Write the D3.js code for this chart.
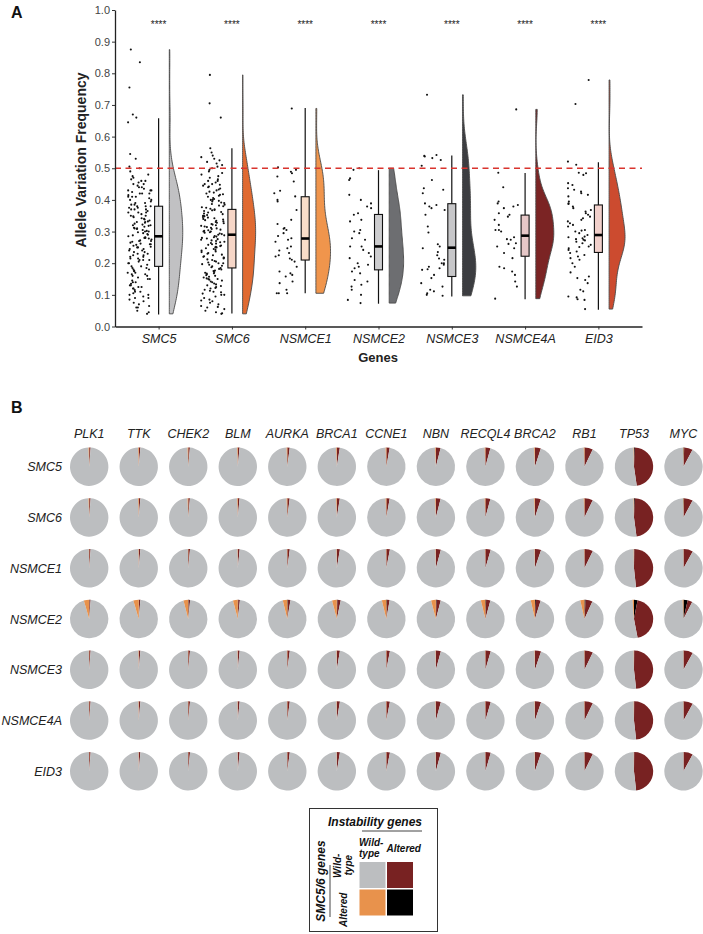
<!DOCTYPE html>
<html>
<head>
<meta charset="utf-8">
<script src="https://cdn.jsdelivr.net/npm/d3@7"></script>
<style>
  html, body { margin: 0; padding: 0; background: #fff; }
  svg { display: block; font-family: "Liberation Sans", Arial, sans-serif; }
</style>
</head>
<body>
<svg id="chart" width="703" height="934"></svg>
<script>
// ---------------- DATA : panel A ----------------
const genes = ["SMC5", "SMC6", "NSMCE1", "NSMCE2", "NSMCE3", "NSMCE4A", "EID3"];
const yTicks = [0, 0.1, 0.2, 0.3, 0.4, 0.5, 0.6, 0.7, 0.8, 0.9, 1.0];
const significance = ["****", "****", "****", "****", "****", "****", "****"];
const thresholdAVF = 0.5;

const afvSMC5 = [0.04,0.045,0.05,0.06,0.065,0.07,0.075,0.08,0.085,0.09,0.09,0.095,0.1,0.06,
  0.10,0.105,0.11,0.11,0.115,0.12,0.12,0.125,0.13,0.13,0.135,0.14,0.14,0.145,0.15,0.125,
  0.15,0.155,0.16,0.16,0.165,0.17,0.17,0.175,0.175,0.18,0.18,0.185,0.185,0.19,0.19,0.195,0.2,0.165,
  0.2,0.205,0.21,0.21,0.215,0.215,0.22,0.22,0.225,0.23,0.23,0.235,0.235,0.24,0.24,0.245,0.245,0.25,0.225,0.21,
  0.25,0.252,0.255,0.258,0.26,0.262,0.265,0.268,0.27,0.272,0.275,0.278,0.28,0.282,0.285,0.288,0.29,0.292,0.295,0.298,0.3,0.26,0.27,0.28,
  0.3,0.302,0.305,0.308,0.31,0.312,0.315,0.318,0.32,0.322,0.325,0.328,0.33,0.332,0.335,0.338,0.34,0.342,0.345,0.348,0.35,0.31,0.32,0.33,
  0.35,0.355,0.36,0.36,0.365,0.37,0.37,0.375,0.375,0.38,0.38,0.385,0.385,0.39,0.39,0.395,0.4,0.36,0.37,0.38,
  0.4,0.405,0.41,0.41,0.415,0.42,0.42,0.425,0.43,0.43,0.435,0.44,0.44,0.445,0.45,0.42,0.43,0.41,
  0.45,0.455,0.46,0.46,0.465,0.47,0.475,0.48,0.49,0.5,
  0.505,0.53,0.545,0.645,0.66,0.67,0.755,0.835,0.875];
const afvSMC6 = [0.04,0.042,0.045,0.05,0.055,0.06,0.062,0.065,0.07,0.075,0.08,0.082,0.085,0.09,0.095,0.1,
  0.1,0.104,0.108,0.11,0.113,0.116,0.12,0.122,0.125,0.128,0.13,0.133,0.136,0.14,0.142,0.145,0.148,0.15,
  0.15,0.152,0.155,0.157,0.16,0.162,0.165,0.167,0.17,0.172,0.175,0.177,0.18,0.182,0.185,0.187,0.19,0.192,0.195,0.197,0.2,0.168,
  0.2,0.202,0.205,0.207,0.21,0.212,0.215,0.217,0.22,0.222,0.225,0.227,0.23,0.232,0.235,0.237,0.24,0.242,0.245,0.247,0.25,0.218,
  0.25,0.252,0.254,0.256,0.258,0.26,0.262,0.264,0.266,0.268,0.27,0.272,0.274,0.276,0.278,0.28,0.282,0.284,0.286,0.288,0.29,0.292,0.294,0.296,0.298,0.3,
  0.3,0.302,0.304,0.306,0.308,0.31,0.312,0.314,0.316,0.318,0.32,0.322,0.324,0.326,0.328,0.33,0.332,0.334,0.336,0.338,0.34,0.342,0.344,0.346,0.348,0.35,
  0.35,0.352,0.355,0.357,0.36,0.362,0.365,0.367,0.37,0.372,0.375,0.377,0.38,0.382,0.385,0.387,0.39,0.392,0.395,0.397,0.4,0.368,
  0.4,0.403,0.406,0.41,0.413,0.416,0.42,0.423,0.426,0.43,0.433,0.436,0.44,0.442,0.445,0.448,0.45,0.418,
  0.45,0.455,0.46,0.465,0.47,0.475,0.48,0.485,0.49,0.495,0.5,0.46,
  0.505,0.51,0.515,0.52,0.525,0.53,0.535,0.54,0.55,0.563,
  0.66,0.705,0.795];
const afvNSMCE1 = [0.689,0.503,0.495,0.489,0.484,0.474,0.458,0.429,0.421,0.411,0.4,0.395,0.368,0.337,0.324,0.311,0.309,0.305,0.295,0.286,0.279,0.274,0.268,0.253,0.247,0.24,0.232,0.225,0.221,0.215,0.211,0.205,0.189,0.174,0.168,0.163,0.158,0.142,0.137,0.116,0.105,0.105,0.105];
const afvNSMCE2 = [0.5,0.495,0.468,0.463,0.416,0.4,0.389,0.379,0.374,0.358,0.353,0.337,0.332,0.305,0.3,0.295,0.279,0.274,0.253,0.253,0.242,0.232,0.221,0.216,0.2,0.195,0.189,0.184,0.174,0.168,0.147,0.142,0.132,0.126,0.116,0.1,0.084,0.074];
const afvNSMCE3 = [0.732,0.542,0.539,0.537,0.532,0.526,0.508,0.463,0.437,0.432,0.421,0.389,0.384,0.379,0.374,0.368,0.353,0.316,0.297,0.26,0.253,0.247,0.235,0.225,0.215,0.211,0.2,0.2,0.195,0.189,0.184,0.181,0.179,0.163,0.153,0.137,0.126,0.116,0.111,0.105,0.1,0.097];
const afvNSMCE4A = [0.686,0.486,0.44,0.395,0.389,0.384,0.379,0.374,0.358,0.353,0.347,0.337,0.321,0.305,0.305,0.3,0.282,0.276,0.274,0.263,0.261,0.253,0.247,0.232,0.216,0.189,0.184,0.174,0.163,0.142,0.126,0.088];
const afvEID3 = [0.779,0.703,0.521,0.511,0.486,0.484,0.479,0.453,0.447,0.437,0.432,0.426,0.421,0.416,0.411,0.395,0.389,0.387,0.379,0.374,0.368,0.363,0.358,0.353,0.347,0.342,0.337,0.332,0.326,0.321,0.316,0.305,0.303,0.3,0.295,0.289,0.284,0.282,0.279,0.276,0.274,0.272,0.268,0.263,0.258,0.253,0.251,0.247,0.242,0.237,0.232,0.226,0.221,0.216,0.211,0.2,0.189,0.171,0.158,0.153,0.147,0.137,0.116,0.111,0.095,0.092,0.086,0.084,0.055];
const afvByGene = [afvSMC5, afvSMC6, afvNSMCE1, afvNSMCE2, afvNSMCE3, afvNSMCE4A, afvEID3];

// box statistics
const boxWhiskerLow  = [0.038, 0.041, 0.105, 0.072, 0.095, 0.086, 0.053];
const boxQ1          = [0.190, 0.185, 0.210, 0.179, 0.158, 0.222, 0.234];
const boxMedian      = [0.285, 0.290, 0.278, 0.253, 0.249, 0.287, 0.289];
const boxQ3          = [0.380, 0.370, 0.410, 0.354, 0.388, 0.352, 0.384];
const boxWhiskerHigh = [0.658, 0.563, 0.690, 0.494, 0.540, 0.485, 0.519];

// ---------------- DATA : panel B ----------------
const instabilityGenes = ["PLK1","TTK","CHEK2","BLM","AURKA","BRCA1","CCNE1","NBN","RECQL4","BRCA2","RB1","TP53","MYC"];
const smcGenes = ["SMC5","SMC6","NSMCE1","NSMCE2","NSMCE3","NSMCE4A","EID3"];
// fraction: instability gene altered, SMC5/6 gene wild-type
const fracInstAltered = [
  [0.012,0.014,0.014,0.015,0.020,0.025,0.028,0.040,0.042,0.050,0.070,0.470,0.072],
  [0.012,0.014,0.014,0.015,0.020,0.025,0.028,0.040,0.042,0.050,0.070,0.472,0.074],
  [0.012,0.014,0.015,0.016,0.021,0.026,0.030,0.042,0.045,0.052,0.072,0.480,0.078],
  [0.010,0.012,0.012,0.014,0.022,0.028,0.022,0.035,0.036,0.040,0.058,0.440,0.040],
  [0.012,0.014,0.015,0.016,0.021,0.026,0.030,0.042,0.045,0.052,0.072,0.480,0.078],
  [0.012,0.014,0.015,0.016,0.021,0.026,0.030,0.042,0.045,0.052,0.072,0.480,0.078],
  [0.012,0.014,0.015,0.016,0.021,0.026,0.030,0.042,0.045,0.052,0.072,0.480,0.078]];
// fraction: SMC5/6 gene altered, instability gene wild-type
const fracSmcAltered = [
  [0.006,0.006,0.006,0.006,0.006,0.006,0.006,0.006,0.006,0.006,0.006,0.003,0.004],
  [0.006,0.006,0.006,0.006,0.006,0.006,0.006,0.006,0.006,0.006,0.006,0.003,0.004],
  [0.003,0.003,0.003,0.003,0.003,0.003,0.003,0.003,0.003,0.003,0.003,0.002,0.002],
  [0.045,0.045,0.040,0.040,0.038,0.040,0.038,0.040,0.038,0.035,0.035,0.012,0.008],
  [0.003,0.003,0.003,0.003,0.003,0.003,0.003,0.003,0.003,0.003,0.003,0.002,0.002],
  [0.003,0.003,0.003,0.003,0.003,0.003,0.003,0.003,0.003,0.003,0.003,0.002,0.002],
  [0.002,0.002,0.002,0.002,0.002,0.002,0.002,0.002,0.002,0.002,0.002,0.001,0.001]];
// fraction: both altered
const fracBothAltered = [
  [0,0,0,0,0,0,0,0,0,0,0.001,0.007,0.006],
  [0,0,0,0,0,0,0,0,0,0,0.001,0.007,0.005],
  [0,0,0,0,0,0,0,0,0,0,0,0.003,0.002],
  [0.002,0.002,0.004,0.004,0.005,0.005,0.006,0.006,0.006,0.008,0.010,0.030,0.035],
  [0,0,0,0,0,0,0,0,0,0,0,0.002,0.002],
  [0,0,0,0,0,0,0,0,0,0,0,0.002,0.002],
  [0,0,0,0,0,0,0,0,0,0,0,0.002,0.001]];
const pieCategories = ["both", "inst", "none", "smc"]; // clockwise from 12 o'clock

// ---------------- STYLE ----------------
const violinFill = ["#c1c1c3", "#e06a31", "#f0954c", "#6d6e71", "#3c3d41", "#7b2424", "#cc4b2f"];
const boxFill    = ["#e2e2e3", "#f6d6c7", "#f9ddc8", "#cdcdcf", "#c7c7c9", "#e6c7c7", "#f1d0cb"];
const pieColor = { none: "#bcbec0", inst: "#782222", smc: "#e8924c", both: "#000000" };

const svg = d3.select("#chart");
svg.append("rect").attr("width", 703).attr("height", 934).attr("fill", "#fff");

// ================= PANEL A =================
const y = d3.scaleLinear().domain([0, 1]).range([326.5, 10]);
const x = d3.scalePoint().domain(genes).range([115, 642]).padding(0.595);

svg.append("text").attr("x", 11).attr("y", 18).text("A")
  .attr("font-size", 16).attr("font-weight", "bold").attr("fill", "#111");

const gA = svg.append("g");

// jittered points (deterministic jitter)
function hash(i, g) {
  const s = Math.sin(i * 12.9898 + g * 78.233 + 1.7) * 43758.5453;
  return s - Math.floor(s);
}
afvByGene.forEach((vals, g) => {
  gA.append("g").selectAll("circle").data(vals).join("circle")
    .attr("cx", (d, i) => x(genes[g]) - 19 + (hash(i, g) - 0.5) * 24)
    .attr("cy", d => y(d))
    .attr("r", 1.05)
    .attr("fill", "#111");
});

// box plots
const boxW = 8;
genes.forEach((gname, g) => {
  const cx = x(gname);
  const bg = gA.append("g");
  bg.append("line").attr("x1", cx).attr("x2", cx)
    .attr("y1", y(boxWhiskerLow[g])).attr("y2", y(boxWhiskerHigh[g]))
    .attr("stroke", "#111").attr("stroke-width", 1.2);
  bg.append("rect").attr("x", cx - boxW / 2).attr("width", boxW)
    .attr("y", y(boxQ3[g])).attr("height", y(boxQ1[g]) - y(boxQ3[g]))
    .attr("fill", boxFill[g]).attr("stroke", "#111").attr("stroke-width", 1.1);
  bg.append("line").attr("x1", cx - boxW / 2).attr("x2", cx + boxW / 2)
    .attr("y1", y(boxMedian[g])).attr("y2", y(boxMedian[g]))
    .attr("stroke", "#000").attr("stroke-width", 2.6);
});

// half violins from kernel density of the points
function kde(vals) {
  const s = vals.slice().sort(d3.ascending);
  const n = s.length;
  const sd = d3.deviation(s);
  const iqr = d3.quantile(s, 0.75) - d3.quantile(s, 0.25);
  const bw = 0.9 * Math.min(sd, iqr / 1.34) * Math.pow(n, -0.2);
  const lo = s[0], hi = s[n - 1];
  const pts = [];
  const m = 120;
  for (let k = 0; k <= m; k++) {
    const t = lo + (hi - lo) * k / m;
    let sum = 0;
    for (const v of s) { const u = (t - v) / bw; sum += Math.exp(-0.5 * u * u); }
    pts.push({ t, d: sum / (n * bw * Math.sqrt(2 * Math.PI)) });
  }
  return pts;
}
const dens = afvByGene.map(kde);
const maxD = d3.max(dens, a => d3.max(a, p => p.d));
const wScale = d3.scaleLinear().domain([0, maxD]).range([0, 18]);
dens.forEach((pts, g) => {
  const x0 = x(genes[g]) + 10.7;
  const area = d3.area().x0(x0).x1(p => x0 + wScale(p.d)).y(p => y(p.t)).curve(d3.curveLinear);
  gA.append("path").attr("d", area(pts))
    .attr("fill", violinFill[g]).attr("stroke", "#4a4a4a").attr("stroke-width", 0.9);
});

// dashed threshold
gA.append("line").attr("x1", 115).attr("x2", 642)
  .attr("y1", y(thresholdAVF)).attr("y2", y(thresholdAVF))
  .attr("stroke", "#d9342e").attr("stroke-width", 1.6).attr("stroke-dasharray", "6,4.5");

// significance stars
gA.append("g").selectAll("text").data(genes).join("text")
  .attr("x", d => x(d)).attr("y", 28).attr("text-anchor", "middle")
  .attr("font-size", 10).attr("fill", "#222")
  .text((d, i) => significance[i]);

// axes
const yAxis = svg.append("g").attr("transform", "translate(115,0)")
  .call(d3.axisLeft(y).tickValues(yTicks).tickFormat(d3.format(".1f")).tickSize(3).tickSizeOuter(0).tickPadding(2));
yAxis.selectAll("text").attr("font-size", 11).attr("fill", "#444").attr("font-family", "Liberation Sans, Arial, sans-serif");
yAxis.selectAll("line").attr("stroke", "#333");
yAxis.select(".domain").attr("stroke", "#222").attr("stroke-width", 1.3);

const xAxis = svg.append("g").attr("transform", "translate(0,326.5)")
  .call(d3.axisBottom(x).tickSize(3).tickSizeOuter(0).tickPadding(5));
xAxis.selectAll("text").attr("font-size", 12.5).attr("font-style", "italic").attr("fill", "#222")
  .attr("font-family", "Liberation Sans, Arial, sans-serif");
xAxis.selectAll("line").attr("stroke", "#333");
xAxis.select(".domain").attr("stroke", "#222").attr("stroke-width", 1.3);

svg.append("text").attr("x", 378).attr("y", 362).attr("text-anchor", "middle")
  .attr("font-size", 13).attr("font-weight", "bold").attr("fill", "#222").text("Genes");
svg.append("text").attr("transform", "translate(86,160) rotate(-90)").attr("text-anchor", "middle")
  .attr("font-size", 14).attr("font-weight", "bold").attr("fill", "#222").text("Allele Variation Frequency");

// ================= PANEL B =================
svg.append("text").attr("x", 11).attr("y", 413).text("B")
  .attr("font-size", 16).attr("font-weight", "bold").attr("fill", "#111");

const colX = d3.scalePoint().domain(instabilityGenes).range([89.2, 683.5]);
const rowY = d3.scalePoint().domain(smcGenes).range([466.7, 771.3]);
const pieR = 19.2;

svg.append("g").selectAll("text").data(instabilityGenes).join("text")
  .attr("x", d => colX(d)).attr("y", 437.5).attr("text-anchor", "middle")
  .attr("font-size", 12.5).attr("font-style", "italic").attr("fill", "#222").text(d => d);

svg.append("g").selectAll("text").data(smcGenes).join("text")
  .attr("x", 62).attr("y", d => rowY(d) + 4.5).attr("text-anchor", "end")
  .attr("font-size", 12.5).attr("font-style", "italic").attr("fill", "#222").text(d => d);

const pie = d3.pie().sort(null).value(d => d.v);
const arc = d3.arc().innerRadius(0).outerRadius(pieR);
smcGenes.forEach((sg, r) => {
  instabilityGenes.forEach((ig, c) => {
    const inst = fracInstAltered[r][c], smc = fracSmcAltered[r][c], both = fracBothAltered[r][c];
    const vals = { both, inst, smc, none: 1 - inst - smc - both };
    const data = pieCategories.map(k => ({ k, v: vals[k] }));
    const g = svg.append("g").attr("transform", `translate(${colX(ig)},${rowY(sg)})`);
    g.selectAll("path").data(pie(data)).join("path")
      .attr("d", arc).attr("fill", d => pieColor[d.data.k]);
  });
});

// ================= LEGEND =================
const lg = svg.append("g");
lg.append("rect").attr("x", 309.5).attr("y", 808.5).attr("width", 128).attr("height", 123)
  .attr("fill", "#fff").attr("stroke", "#333").attr("stroke-width", 1);
lg.append("text").attr("x", 328).attr("y", 826).attr("font-size", 12).attr("font-weight", "bold")
  .attr("font-style", "italic").attr("fill", "#111").text("Instability genes");
lg.append("line").attr("x1", 362).attr("x2", 422).attr("y1", 831).attr("y2", 831)
  .attr("stroke", "#444").attr("stroke-width", 1);
const hdr = lg.append("g").attr("font-size", 10).attr("font-weight", "bold").attr("font-style", "italic").attr("fill", "#111");
hdr.append("text").attr("x", 359).attr("y", 846).text("Wild-");
hdr.append("text").attr("x", 359).attr("y", 857).text("type");
hdr.append("text").attr("x", 386.5).attr("y", 852).text("Altered");

const sq = [
  { k: "none", x: 359.5, y: 862 }, { k: "inst", x: 387, y: 862 },
  { k: "smc", x: 359.5, y: 889.5 }, { k: "both", x: 387, y: 889.5 }];
lg.selectAll("rect.sq").data(sq).join("rect").attr("class", "sq")
  .attr("x", d => d.x).attr("y", d => d.y).attr("width", 26).attr("height", 26)
  .attr("fill", d => pieColor[d.k]);

lg.append("text").attr("transform", "translate(325,881) rotate(-90)").attr("text-anchor", "middle")
  .attr("font-size", 12).attr("font-weight", "bold").attr("font-style", "italic").attr("fill", "#111")
  .text("SMC5/6 genes");
lg.append("line").attr("x1", 330).attr("x2", 330).attr("y1", 865).attr("y2", 917)
  .attr("stroke", "#444").attr("stroke-width", 1);
const side = lg.append("g").attr("font-size", 10).attr("font-weight", "bold").attr("font-style", "italic").attr("fill", "#111");
side.append("text").attr("transform", "translate(341,878) rotate(-90)").attr("text-anchor", "start").text("Wild-");
side.append("text").attr("transform", "translate(352,875.5) rotate(-90)").text("type");
side.append("text").attr("transform", "translate(347,927) rotate(-90)").text("Altered");
</script>
</body>
</html>
